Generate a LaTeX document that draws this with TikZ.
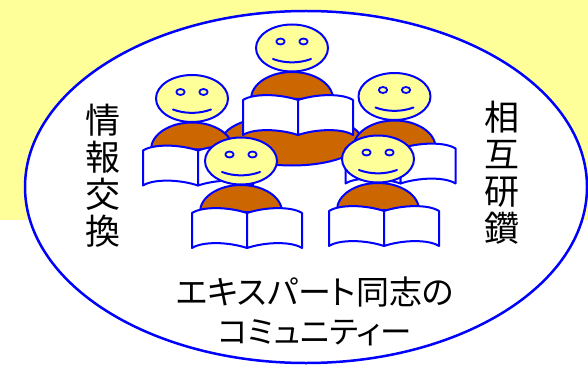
\documentclass[tikz,border=0pt]{standalone}
\usepackage{fontspec}
\newfontfamily\jp{Noto Sans CJK JP}
\newfontfamily\jpprop[RawFeature=+palt]{Noto Sans CJK JP}
\definecolor{paleyellow}{HTML}{FFFF99}
\definecolor{robe}{HTML}{CC6600}
\definecolor{inkblue}{HTML}{0000FF}

\tikzset{
  outl/.style={draw=inkblue, line width=2pt, line join=round},
  vtext/.style={font=\jp\fontsize{35}{37}\selectfont, align=center, inner sep=0pt},
  btext/.style={font=\jpprop\fontsize{33}{38.5}\selectfont, align=center, inner sep=0pt},
  % one seated reader: face at the origin, shoulders, open book in front
  reader/.pic={
    \draw[outl, fill=robe] (-41,51) arc[start angle=180, end angle=0, x radius=41pt, y radius=27pt] -- cycle;
    \draw[outl, fill=paleyellow] (0,0) ellipse[x radius=36pt, y radius=23.5pt];
    \draw[outl, line width=1.8pt, fill=paleyellow] (-11.5,-6.5) ellipse[x radius=4.2pt, y radius=3pt];
    \draw[outl, line width=1.8pt, fill=paleyellow] (11.5,-6.5) ellipse[x radius=4.2pt, y radius=3pt];
    \draw[outl, line cap=round] (-19,11) .. controls (-7,15.5) and (7,15.5) .. (19,11);
    \draw[outl, fill=white] (6,52) .. controls (-12,46) and (-38,45) .. (-49,52) -- (-49,87)
      .. controls (-38,80) and (-12,81) .. (6,87) -- cycle;
    \draw[outl, fill=white] (6,52) .. controls (24,46) and (50,45) .. (61,52) -- (61,87)
      .. controls (50,80) and (24,81) .. (6,87) -- cycle;
  }
}

\begin{document}
\begin{tikzpicture}[x=1pt, y=-1pt]
  \useasboundingbox (0,0) rectangle (588,366);
  % pale backdrop and the community circle
  \fill[paleyellow] (0,0) rectangle (588,220);
  \draw[draw=inkblue, line width=2.5pt, fill=white] (306,187) ellipse[x radius=281pt, y radius=176pt];

  % the circle of readers, back to front
  \draw[outl, fill=robe] (292,140) ellipse[x radius=69.5pt, y radius=25.5pt];
  \pic (top) at (292,48) {reader};
  \pic (leftback) at (192,98.5) {reader};
  \pic (rightback) at (394.5,96.5) {reader};
  \pic (frontleft) at (241,161) {reader};
  \pic (frontright) at (378,159) {reader};

  % labels
  \node[vtext] (exchange) at (103,175.5) {情\\報\\交\\換};
  \node[vtext] (study) at (502,173) {相\\互\\研\\鑽};
  \node[btext] (title) at (315,311.5) {エキスパート同志の\\{\fontsize{31.5}{38.5}\selectfont コミュニティー}};
\end{tikzpicture}
\end{document}
